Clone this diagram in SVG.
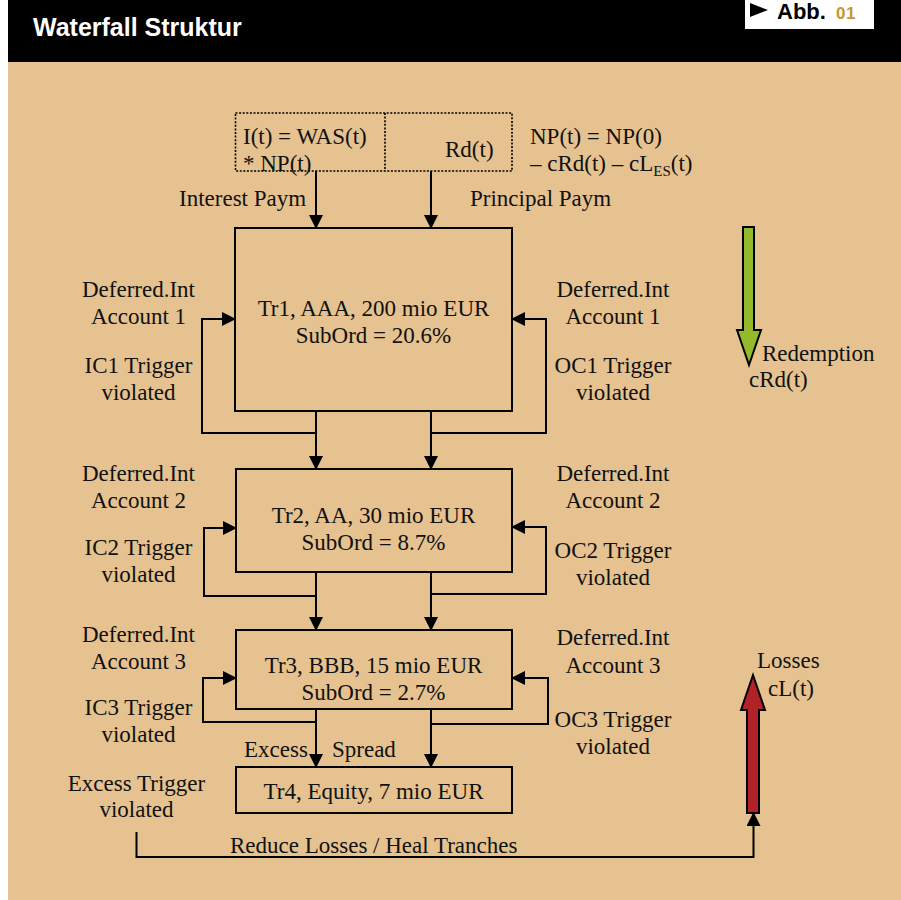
<svg xmlns="http://www.w3.org/2000/svg" width="901" height="900" viewBox="0 0 901 900">
<defs>
<marker id="ah" viewBox="0 0 14 14" refX="13" refY="7" markerWidth="14" markerHeight="14" markerUnits="userSpaceOnUse" orient="auto">
<path d="M0,0 L14,7 L0,14 Z" fill="#000"/>
</marker>
<style>
.t{font-family:"Liberation Serif","Times New Roman",serif;font-size:23px;fill:#111;}
.c{text-anchor:middle;}
.box{fill:none;stroke:#000;stroke-width:2;}
.ln{fill:none;stroke:#000;stroke-width:2;}
.ar{fill:none;stroke:#000;stroke-width:2;marker-end:url(#ah);}
</style>
</defs>
<rect x="0" y="0" width="901" height="900" fill="#fff"/>
<rect x="8" y="0" width="893" height="62" fill="#000"/>
<rect x="8" y="62" width="893" height="838" fill="#e5c28f"/>
<g id="header">
<text x="33" y="36" font-family="Liberation Sans,Arial,sans-serif" font-size="25" font-weight="bold" fill="#fff">Waterfall Struktur</text>
<rect x="745" y="0" width="129" height="29" fill="#fff"/>
<polygon points="750,3 768,10 750,17" fill="#000"/>
<text x="777" y="19" font-family="Liberation Sans,Arial,sans-serif" font-size="22" font-weight="bold" fill="#000">Abb.</text>
<text x="836" y="19" font-family="Liberation Sans,Arial,sans-serif" font-size="17" font-weight="bold" fill="#c8962a" letter-spacing="0.5">01</text>
</g>
<g id="source">
<rect x="235.5" y="113" width="276.5" height="58" fill="none" stroke="#000" stroke-width="1.6" stroke-dasharray="2 1.6"/>
<line x1="385" y1="113" x2="385" y2="171" stroke="#000" stroke-width="1.6" stroke-dasharray="2 1.6"/>
<text class="t" x="243" y="144">I(t) = WAS(t)</text>
<text class="t" x="243" y="171">* NP(t)</text>
<text class="t" x="445" y="157">Rd(t)</text>
<text class="t" x="530" y="144">NP(t) = NP(0)</text>
<text class="t" x="530" y="171">– cRd(t) – cL<tspan font-size="15" dy="5">ES</tspan><tspan dy="-5">(t)</tspan></text>
</g>
<g id="labels-top">
<text class="t" x="179" y="206">Interest Paym</text>
<text class="t" x="470" y="206">Principal Paym</text>
</g>
<g id="tr1">
<rect class="box" x="235" y="228" width="277" height="183"/>
<text class="t c" x="373.5" y="316">Tr1, AAA, 200 mio EUR</text>
<text class="t c" x="373.5" y="343">SubOrd = 20.6%</text>
</g>
<g id="tr2">
<rect class="box" x="236" y="469" width="276" height="103"/>
<text class="t c" x="373.5" y="523">Tr2, AA, 30 mio EUR</text>
<text class="t c" x="373.5" y="550">SubOrd = 8.7%</text>
</g>
<g id="tr3">
<rect class="box" x="236" y="630" width="276" height="79"/>
<text class="t c" x="373.5" y="673">Tr3, BBB, 15 mio EUR</text>
<text class="t c" x="373.5" y="700">SubOrd = 2.7%</text>
</g>
<g id="tr4">
<rect class="box" x="236" y="767" width="276" height="46"/>
<text class="t c" x="373.5" y="799">Tr4, Equity, 7 mio EUR</text>
</g>
<g id="side-labels">
<text class="t c" x="138.5" y="297">Deferred.Int</text>
<text class="t c" x="138.5" y="324">Account 1</text>
<text class="t c" x="138.5" y="373">IC1 Trigger</text>
<text class="t c" x="138.5" y="400">violated</text>
<text class="t c" x="613" y="297">Deferred.Int</text>
<text class="t c" x="613" y="324">Account 1</text>
<text class="t c" x="613" y="373">OC1 Trigger</text>
<text class="t c" x="613" y="400">violated</text>
<text class="t c" x="138.5" y="481">Deferred.Int</text>
<text class="t c" x="138.5" y="508">Account 2</text>
<text class="t c" x="138.5" y="555">IC2 Trigger</text>
<text class="t c" x="138.5" y="582">violated</text>
<text class="t c" x="613" y="481">Deferred.Int</text>
<text class="t c" x="613" y="508">Account 2</text>
<text class="t c" x="613" y="558">OC2 Trigger</text>
<text class="t c" x="613" y="585">violated</text>
<text class="t c" x="138.5" y="642">Deferred.Int</text>
<text class="t c" x="138.5" y="669">Account 3</text>
<text class="t c" x="138.5" y="715">IC3 Trigger</text>
<text class="t c" x="138.5" y="742">violated</text>
<text class="t c" x="613" y="645">Deferred.Int</text>
<text class="t c" x="613" y="673">Account 3</text>
<text class="t c" x="613" y="727">OC3 Trigger</text>
<text class="t c" x="613" y="754">violated</text>
<text class="t" x="244" y="757">Excess</text>
<text class="t" x="332" y="757">Spread</text>
<text class="t c" x="136.5" y="791">Excess Trigger</text>
<text class="t c" x="136.5" y="817">violated</text>
<text class="t" x="230" y="853">Reduce Losses / Heal Tranches</text>
</g>
<g id="connectors">
<line class="ar" x1="316" y1="171" x2="316" y2="228"/>
<line class="ar" x1="431" y1="171" x2="431" y2="228"/>
<line class="ar" x1="316" y1="411" x2="316" y2="469"/>
<line class="ar" x1="431" y1="411" x2="431" y2="469"/>
<path class="ar" d="M316,433 H202 V319 H235"/>
<path class="ar" d="M431,433 H546 V319 H512"/>
<line class="ar" x1="316" y1="572" x2="316" y2="630"/>
<line class="ar" x1="431" y1="572" x2="431" y2="630"/>
<path class="ar" d="M316,596 H204 V528 H236"/>
<path class="ar" d="M431,594 H546 V527 H512"/>
<line class="ar" x1="316" y1="709" x2="316" y2="767"/>
<line class="ar" x1="431" y1="709" x2="431" y2="767"/>
<path class="ar" d="M316,722 H203 V678 H236"/>
<path class="ar" d="M431,724 H548 V678 H512"/>
<path class="ar" d="M136.5,832 V857 H753.5 V813"/>
</g>
<g id="redemption">
<polygon points="743,227 754,227 754,330 761,330 749,365 737,330 743,330" fill="#95b92c" stroke="#000" stroke-width="2" stroke-linejoin="miter"/>
<text class="t" x="762" y="361">Redemption</text>
<text class="t" x="749" y="387">cRd(t)</text>
</g>
<g id="losses">
<polygon points="747,813 759,813 759,710 765,710 753,675 741,710 747,710" fill="#b02228" stroke="#000" stroke-width="2"/>
<text class="t" x="757" y="668">Losses</text>
<text class="t" x="768" y="696">cL(t)</text>
</g>
</svg>
